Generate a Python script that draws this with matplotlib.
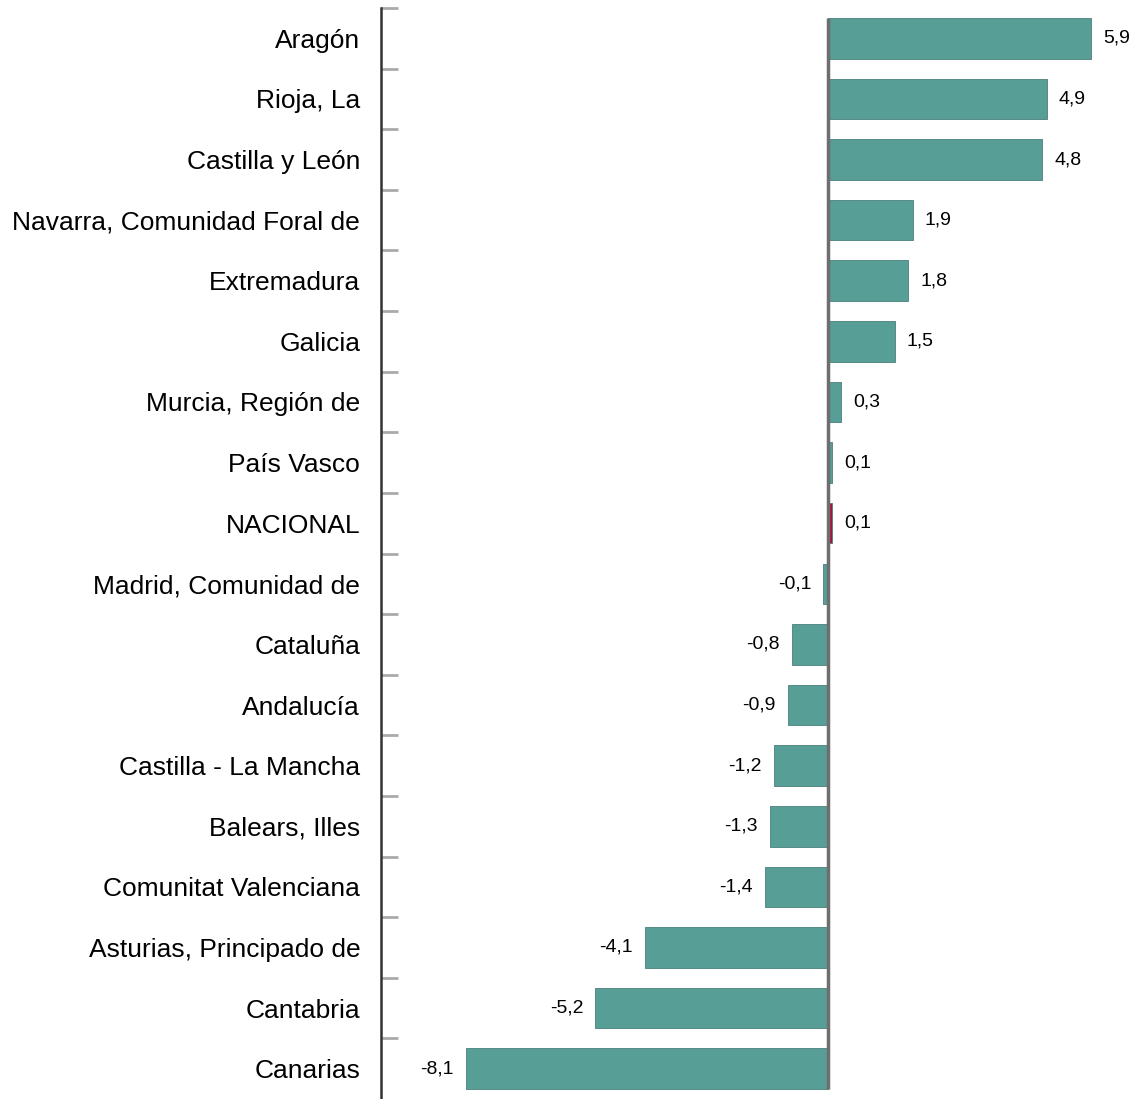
import matplotlib.pyplot as plt
import numpy as np

plt.rcParams['font.family'] = ['Liberation Sans', 'DejaVu Sans']

regiones = ['Aragón', 'Rioja, La', 'Castilla y León', 'Navarra, Comunidad Foral de',
            'Extremadura', 'Galicia', 'Murcia, Región de', 'País Vasco', 'NACIONAL',
            'Madrid, Comunidad de', 'Cataluña', 'Andalucía', 'Castilla - La Mancha',
            'Balears, Illes', 'Comunitat Valenciana', 'Asturias, Principado de',
            'Cantabria', 'Canarias']
valores = [5.9, 4.9, 4.8, 1.9, 1.8, 1.5, 0.3, 0.1, 0.1,
           -0.1, -0.8, -0.9, -1.2, -1.3, -1.4, -4.1, -5.2, -8.1]

teal = '#579e97'
rojo = '#a3163c'
colores = [rojo if r == 'NACIONAL' else teal for r in regiones]

fig = plt.figure(figsize=(11.32, 10.99), dpi=100)
ax = fig.add_axes([381 / 1132, 0, 1 - 381 / 1132, 1 - 8 / 1099])

y = np.arange(len(regiones))
alto = 0.67
ax.barh(y, valores, height=alto, color=colores, edgecolor='#4a7f7a', linewidth=0.6, zorder=2)
# linea del cero solo a lo largo de las barras
ax.vlines(0, -alto / 2, len(regiones) - 1 + alto / 2, color='#6e6e6e', linewidth=2.5, zorder=3)

for yi, v in zip(y, valores):
    txt = '{:.1f}'.format(v).replace('.', ',')
    if v >= 0:
        ax.text(v + 0.27, yi, txt, va='center', ha='left', fontsize=14)
    else:
        ax.text(v - 0.27, yi, txt, va='center', ha='right', fontsize=14)

ax.set_xlim(-10, 6.81)
ax.set_ylim(len(regiones) - 0.5, -0.5)

ax.set_yticks(y)
ax.set_yticklabels(regiones, fontsize=19)
ax.tick_params(axis='y', which='major', length=0, pad=15)
ax.set_yticks(np.arange(len(regiones)) - 0.5, minor=True)
ax.tick_params(axis='y', which='minor', direction='in', length=12, width=2, color='#aaaaaa')
ax.set_xticks([])

for s in ['top', 'right', 'bottom']:
    ax.spines[s].set_visible(False)
ax.spines['left'].set_color('#333333')
ax.spines['left'].set_linewidth(1.8)

fig.savefig('out.png', dpi=100)
